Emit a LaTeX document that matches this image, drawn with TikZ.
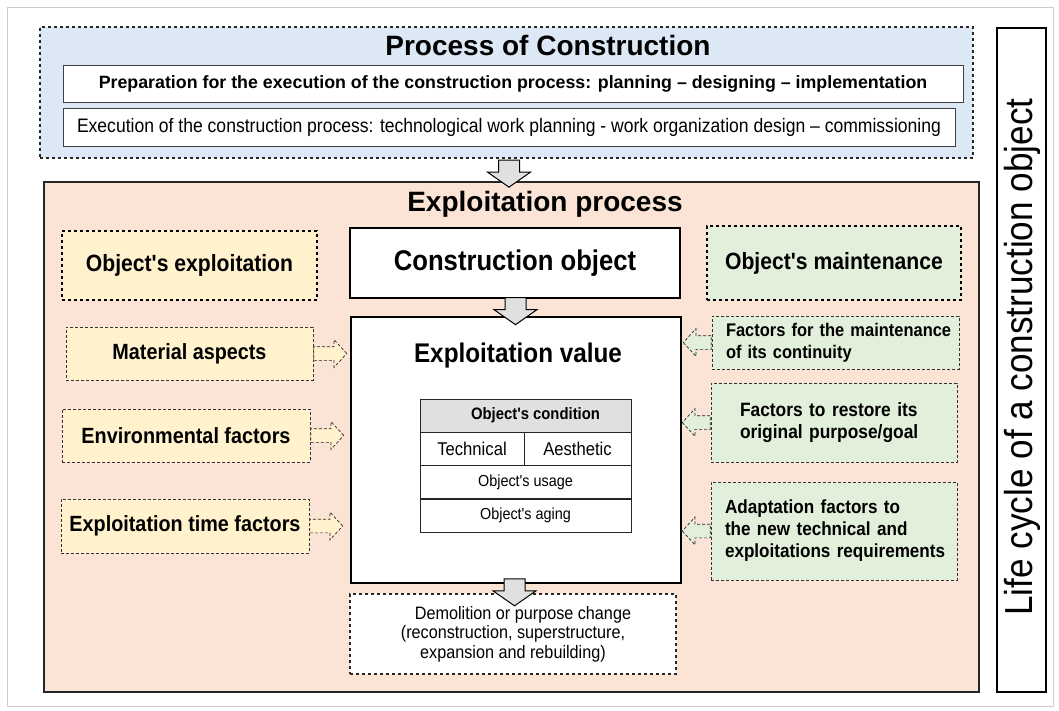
\documentclass[tikz,border=0pt]{standalone}
\usepackage{fontspec}
\setmainfont{Liberation Sans}
\newfontfamily\narrowfont[FakeStretch=0.9]{Liberation Sans}
\usetikzlibrary{shapes.arrows}

\definecolor{procblue}{RGB}{220,232,245}
\definecolor{explsalmon}{RGB}{251,228,214}
\definecolor{useyellow}{RGB}{255,242,204}
\definecolor{maintgreen}{RGB}{226,239,218}
\definecolor{arrowgray}{RGB}{224,224,224}

\tikzset{
  stagebox/.style={draw=black!75, line width=0.9pt, fill=white, inner sep=0pt},
  groupbox/.style={draw=black!85, line width=1.3pt, inner sep=0pt},
  mainbox/.style={draw=black, line width=2.2pt, fill=white, inner sep=0pt},
  headbox/.style={draw=black, line width=2pt, dashed, inner sep=0pt,
    font=\narrowfont\bfseries\fontsize{23.5}{26}\selectfont},
  factorbox/.style={draw=black!80, line width=0.7pt, densely dashed, inner sep=0pt},
  cellbox/.style={draw=black!85, line width=1pt, fill=white, inner sep=0pt,
    minimum height=33pt},
  downarrow/.style={single arrow, draw=black, line width=1pt, fill=arrowgray,
    rotate=-90, minimum height=27pt, inner xsep=0pt, inner ysep=10pt,
    single arrow head extend=11pt, single arrow tip angle=110},
  sidearrow/.style={single arrow, draw=black!85, line width=0.7pt, densely dashed,
    minimum height=33pt, inner xsep=0pt, inner ysep=6.5pt,
    single arrow head extend=7pt, single arrow tip angle=95},
}

\begin{document}
\begin{tikzpicture}[x=1pt, y=-1pt]
        \useasboundingbox (0,0) rectangle (1059,711);
        \draw[black!20, line width=0.8pt] (7,7) rectangle (1053,706);

        % Process of construction
        \node[groupbox, dashed, fill=procblue, minimum width=933pt, minimum height=131pt] (proc) at (506.5,92.5) {};
        \node[font=\bfseries\fontsize{28}{30}\selectfont] (proctitle) at (548,45) {Process of Construction};
        \node[stagebox, minimum width=900pt, minimum height=37pt,
              font=\bfseries\fontsize{17.8}{20}\selectfont] (prep) at (513,83.5)
              {Preparation for the execution of the construction process: planning – designing – implementation};
        \node[stagebox, minimum width=892pt, minimum height=38pt,
              font=\narrowfont\fontsize{19.5}{21}\selectfont] (exec) at (509,127)
              {Execution of the construction process: technological work planning - work organization design – commissioning};

        % Exploitation process
        \node[groupbox, fill=explsalmon, minimum width=935pt, minimum height=510pt] (expl) at (511.5,437) {};
        \node[font=\bfseries\fontsize{28}{30}\selectfont] (expltitle) at (545,204) {Exploitation process};
        \path (proc.south) -- (expl.north) node[midway, downarrow] {};

        % Headings of the three columns
        \node[headbox, fill=useyellow, minimum width=255pt, minimum height=69pt] (objexpl) at (189.5,265.5) {Object's exploitation};
        \node[mainbox, minimum width=330pt, minimum height=70pt,
              font=\narrowfont\bfseries\fontsize{28.5}{30}\selectfont] (conobj) at (515,263) {Construction object};
        \node[headbox, fill=maintgreen, minimum width=254pt, minimum height=74pt] (objmaint) at (834,263) {Object's maintenance};

        % Exploitation value
        \node[mainbox, minimum width=330pt, minimum height=266pt] (val) at (516,450) {};
        \node[font=\narrowfont\bfseries\fontsize{27}{30}\selectfont] (valtitle) at (518,356) {Exploitation value};
        \path (conobj.south) -- (val.north) node[midway, downarrow] {};

        % Condition table
        \node[cellbox, fill=arrowgray, minimum width=211pt, font=\narrowfont\bfseries\fontsize{16.5}{18}\selectfont] (cond) at (525.5,415.5) {\hspace{20pt}Object's condition};
        \node[cellbox, minimum width=104pt, font=\narrowfont\fontsize{18.5}{20}\selectfont] (tech) at (472,448.5) {Technical};
        \node[cellbox, minimum width=107pt, font=\narrowfont\fontsize{18.5}{20}\selectfont] (aesth) at (577.5,448.5) {Aesthetic};
        \node[cellbox, minimum width=211pt, font=\narrowfont\fontsize{16}{18}\selectfont] (usage) at (525.5,482) {Object's usage};
        \node[cellbox, minimum width=211pt, font=\narrowfont\fontsize{16}{18}\selectfont] (aging) at (525.5,515.5) {Object's aging};

        % Demolition
        \node[draw=black!85, line width=1.5pt, dashed, fill=white, minimum width=326pt, minimum height=80pt,
              align=center, font=\narrowfont\fontsize{18}{19.5}\selectfont] (demol) at (513,634)
              {\hspace{20pt}Demolition or purpose change\\(reconstruction, superstructure,\\expansion and rebuilding)};
        \path (val.south) -- (demol.north) node[midway, downarrow] {};

        % Exploitation factors
        \node[factorbox, fill=useyellow, minimum width=247pt, minimum height=53pt,
              font=\narrowfont\bfseries\fontsize{22}{24}\selectfont] (mat) at (189.5,353.5) {Material aspects\hspace{24pt}};
        \node[factorbox, fill=useyellow, minimum width=248pt, minimum height=53pt,
              font=\narrowfont\bfseries\fontsize{22}{24}\selectfont] (env) at (186,435.5) {Environmental factors};
        \node[factorbox, fill=useyellow, minimum width=248pt, minimum height=54pt,
              font=\narrowfont\bfseries\fontsize{22}{24}\selectfont] (time) at (185,526) {Exploitation time factors};
        \path (mat.east) -- (mat.east -| val.west) node[pos=0, anchor=tail, sidearrow, fill=useyellow] {};
        \path (env.east) -- (env.east -| val.west) node[pos=0, anchor=tail, sidearrow, fill=useyellow] {};
        \path (time.east) -- (time.east -| val.west) node[pos=0, anchor=tail, sidearrow, fill=useyellow] {};

        % Maintenance factors
        \node[factorbox, fill=maintgreen, minimum width=247pt, minimum height=53pt, align=left, text width=219pt,
              font=\narrowfont\bfseries\fontsize{18.3}{22}\selectfont] (fmaint) at (835.5,342.5)
              {\mbox{Factors for the maintenance}\\\mbox{of its continuity}};
        \node[factorbox, fill=maintgreen, minimum width=246pt, minimum height=79pt, align=left, text width=188pt,
              font=\narrowfont\bfseries\fontsize{19.3}{22}\selectfont] (frest) at (834,422.5)
              {\mbox{Factors to restore its}\\\mbox{original purpose/goal}};
        \node[factorbox, fill=maintgreen, minimum width=246pt, minimum height=98pt, align=left, text width=218pt,
              font=\narrowfont\bfseries\fontsize{19}{22}\selectfont] (fadapt) at (834,531)
              {\mbox{Adaptation factors to}\\\mbox{the new technical and}\\\mbox{exploitations requirements}};
        \path (fmaint.west) -- (fmaint.west -| val.east) node[pos=0, anchor=tail, sidearrow, minimum height=28pt, rotate=180, fill=maintgreen] {};
        \path (frest.west) -- (frest.west -| val.east) node[pos=0, anchor=tail, sidearrow, minimum height=28pt, rotate=180, fill=maintgreen] {};
        \path (fadapt.west) -- (fadapt.west -| val.east) node[pos=0, anchor=tail, sidearrow, minimum height=28pt, rotate=180, fill=maintgreen] {};

        % Life cycle
        \node[draw=black, line width=1.2pt, fill=white, minimum width=49pt, minimum height=664pt] (life) at (1021.5,360) {};
        \node[rotate=90, font=\narrowfont\fontsize{39}{40}\selectfont] (lifetitle) at (1022.5,357) {Life cycle of a construction object};
\end{tikzpicture}
\end{document}
